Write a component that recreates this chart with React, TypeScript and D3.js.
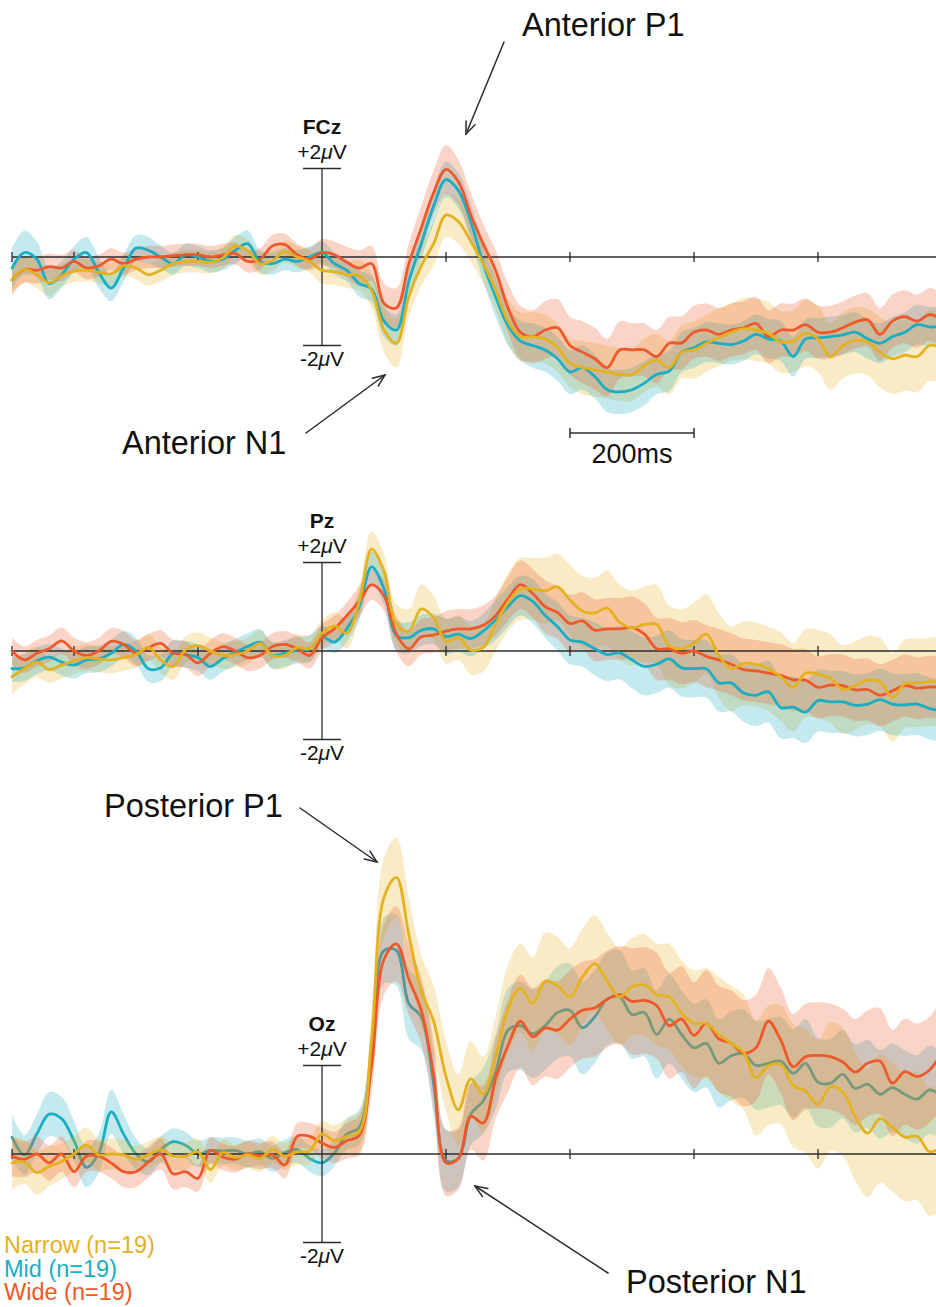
import React from 'react';
import * as d3 from 'd3';

const W = 936;
const H = 1307;

// Sample times (ms), 20 ms steps from -500 to 1000
const times = d3.range(-500, 1001, 20);

const groups = ['Narrow (n=19)', 'Mid (n=19)', 'Wide (n=19)'];
const colors = { narrow: '#E4B11F', mid: '#1AAEC2', wide: '#EF582A' };

// Grand-average ERPs (µV), one row = 100 ms
const fczNarrow = [
  -0.52, -0.28, -0.40, -0.58, -0.42,
  -0.32, -0.30, -0.35, -0.38, -0.20,
  -0.25, -0.40, -0.30, -0.15, -0.10,
  -0.10, -0.12, -0.02, 0.25, 0.15,
  -0.15, -0.08, 0.12, 0.00, -0.10,
  -0.30, -0.33, -0.40, -0.42, -0.75,
  -1.65, -1.95, -0.90, -0.20, 0.30,
  0.95, 0.80, 0.35, -0.15, -0.75,
  -1.45, -1.80, -1.80, -1.85, -2.05,
  -2.40, -2.50, -2.55, -2.60, -2.65,
  -2.66, -2.45, -2.33, -2.50, -2.15,
  -2.10, -1.95, -1.82, -1.70, -1.62,
  -1.65, -1.72, -1.92, -1.90, -1.72,
  -1.85, -2.25, -2.00, -1.88, -1.92,
  -2.15, -2.30, -2.22, -2.25, -2.00,
  -2.05,
];
const fczMid = [
  -0.25, 0.10, -0.05, -0.60, -0.40,
  -0.05, 0.10, -0.35, -0.70, -0.25,
  0.20, 0.15, 0.00, -0.15, 0.05,
  0.00, -0.10, -0.05, 0.15, 0.30,
  -0.10, -0.15, -0.05, -0.10, 0.00,
  0.10, -0.15, -0.30, -0.60, -0.72,
  -1.45, -1.65, -0.55, 0.30, 1.15,
  1.75, 1.50, 0.80, -0.15, -0.90,
  -1.55, -1.90, -2.00, -2.10, -2.30,
  -2.60, -2.50, -2.70, -3.00, -3.05,
  -3.00, -2.85, -2.65, -2.58, -2.15,
  -2.05, -1.92, -1.95, -1.98, -1.90,
  -1.75, -1.85, -1.90, -2.25, -1.85,
  -1.83, -1.80, -1.76, -1.70, -1.85,
  -1.95, -1.80, -1.70, -1.53, -1.58,
  -1.57,
];
const fczWide = [
  -0.52, -0.28, -0.30, -0.22, -0.25,
  -0.10, -0.25, -0.20, -0.05, -0.15,
  -0.05, 0.00, 0.00, 0.03, 0.05,
  0.05, 0.00, 0.05, 0.08, -0.10,
  -0.05, 0.25, 0.28, 0.05, -0.05,
  0.10, 0.05, -0.12, -0.25, -0.15,
  -1.05, -1.15, -0.15, 0.65, 1.45,
  1.98, 1.70, 0.95, 0.30, -0.30,
  -1.15, -1.70, -1.80, -1.65, -1.60,
  -2.00, -2.15, -2.30, -2.50, -2.10,
  -2.10, -2.10, -2.25, -1.95, -1.94,
  -1.70, -1.65, -1.75, -1.65, -1.60,
  -1.50, -1.80, -1.65, -1.65, -1.53,
  -1.70, -1.70, -1.60, -1.47, -1.42,
  -1.75, -1.45, -1.35, -1.45, -1.30,
  -1.42,
];

const pzNarrow = [
  -0.58, -0.40, -0.25, -0.42, -0.32,
  -0.22, -0.15, -0.18, -0.20, -0.15,
  -0.08, 0.08, -0.20, -0.35, 0.03,
  0.12, 0.00, -0.10, -0.08, 0.00,
  0.17, -0.10, -0.10, 0.08, 0.05,
  0.40, 0.57, 0.40, 1.10, 2.30,
  1.80, 0.60, 0.45, 0.95, 0.75,
  0.22, 0.30, 0.02, 0.08, 0.60,
  1.10, 1.40, 1.40, 1.36, 1.45,
  1.15, 0.90, 0.86, 0.97, 0.65,
  0.52, 0.60, 0.60, 0.12, 0.05,
  0.18, 0.38, -0.10, -0.40, -0.28,
  -0.30, -0.40, -0.58, -0.82, -0.50,
  -0.52, -0.62, -0.87, -0.78, -0.66,
  -0.70, -1.05, -0.74, -0.72, -0.70,
  -0.66,
];
const pzMid = [
  -0.40, -0.38, -0.22, -0.14, -0.25,
  -0.32, -0.20, -0.18, -0.05, 0.15,
  0.00, -0.40, -0.38, -0.05, -0.08,
  -0.15, -0.35, -0.17, -0.03, 0.10,
  0.20, -0.10, -0.05, 0.02, 0.05,
  0.32, 0.20, 0.50, 1.00, 1.90,
  1.40, 0.35, 0.30, 0.47, 0.50,
  0.33, 0.38, 0.28, 0.45, 0.70,
  1.00, 1.25, 1.12, 0.80, 0.55,
  0.25, 0.20, 0.05, -0.08, -0.04,
  -0.20, -0.35, -0.30, -0.18, -0.38,
  -0.40, -0.40, -0.72, -0.72, -0.95,
  -1.00, -0.92, -1.28, -1.27, -1.38,
  -1.12, -1.15, -1.15, -1.23, -1.20,
  -1.10, -1.20, -1.22, -1.20, -1.30,
  -1.35,
];
const pzWide = [
  0.00, -0.20, -0.05, 0.05, 0.23,
  0.00, -0.10, 0.00, 0.22, 0.15,
  -0.05, 0.08, 0.17, -0.05, -0.08,
  -0.27, -0.05, 0.10, 0.00, -0.15,
  -0.10, 0.10, 0.15, 0.05, -0.10,
  0.30, 0.50, 0.80, 1.12, 1.50,
  1.25, 0.38, 0.05, 0.32, 0.36,
  0.45, 0.50, 0.50, 0.58, 0.80,
  1.18, 1.50, 1.30, 1.00, 0.87,
  0.62, 0.68, 0.47, 0.50, 0.50,
  0.53, 0.38, 0.05, 0.05, -0.05,
  0.00, -0.12, -0.20, -0.30, -0.42,
  -0.45, -0.50, -0.55, -0.65, -0.66,
  -0.82, -0.77, -0.78, -0.88, -0.87,
  -1.00, -0.90, -0.78, -0.84, -0.81,
  -0.83,
];

const ozNarrow = [
  -0.20, -0.18, -0.42, -0.28, -0.17,
  0.00, 0.20, -0.02, 0.00, -0.02,
  -0.12, -0.02, 0.10, -0.05, -0.05,
  0.05, -0.35, 0.03, -0.08, -0.02,
  -0.10, 0.10, -0.05, 0.05, 0.07,
  0.45, 0.30, 0.40, 0.50, 2.60,
  5.80, 6.25, 4.95, 3.70, 3.00,
  1.75, 1.00, 1.70, 1.35, 2.20,
  3.28, 3.75, 3.40, 3.90, 3.80,
  3.55, 4.00, 4.30, 3.90, 3.55,
  3.78, 3.82, 3.60, 3.55, 3.18,
  2.95, 2.95, 2.70, 2.50, 2.30,
  1.72, 2.00, 2.02, 1.55, 1.42,
  1.12, 1.52, 1.40, 0.85, 0.47,
  0.80, 0.60, 0.38, 0.40, 0.05,
  0.17,
];
const ozMid = [
  0.38, -0.02, 0.45, 0.90, 0.80,
  0.30, -0.30, 0.02, 0.95, 0.45,
  0.00, -0.18, 0.10, 0.28, 0.20,
  0.00, 0.08, 0.07, 0.08, 0.00,
  0.05, -0.10, 0.03, 0.10, -0.10,
  -0.20, 0.02, 0.45, 0.60, 2.30,
  4.60, 4.60, 3.40, 3.10, 1.60,
  -0.15, -0.10, 0.90, 1.20, 1.85,
  2.80, 2.90, 2.72, 2.90, 3.20,
  3.25, 2.85, 3.10, 3.50, 3.55,
  3.15, 3.20, 2.70, 3.05, 2.70,
  2.40, 2.50, 2.05, 2.22, 2.27,
  2.00, 2.05, 2.10, 1.82, 2.05,
  1.62, 1.60, 1.80, 1.48, 1.58,
  1.35, 1.50, 1.35, 1.24, 1.45,
  1.30,
];
const ozWide = [
  -0.05, -0.12, 0.00, -0.20, 0.00,
  -0.40, -0.05, -0.05, -0.20, -0.40,
  -0.40, -0.18, 0.00, -0.45, -0.40,
  -0.55, 0.08, -0.07, -0.12, 0.00,
  -0.04, -0.02, -0.25, 0.40, 0.40,
  0.25, 0.15, 0.30, 0.42, 2.00,
  4.40, 4.75, 3.95, 3.25, 1.80,
  -0.20, -0.10, 0.85, 0.70, 1.70,
  2.45, 3.00, 2.65, 2.85, 2.80,
  3.05, 3.25, 3.30, 3.50, 3.60,
  3.45, 3.47, 3.35, 2.90, 3.05,
  2.68, 2.95, 2.60, 2.50, 2.28,
  2.40, 3.00, 2.57, 1.97, 2.20,
  2.23, 2.20, 2.08, 1.85, 2.05,
  2.10, 1.60, 1.86, 1.75, 1.90,
  2.30,
];

// Standard error half-widths (µV), same sampling
const errFczNarrow = [
  0.35, 0.30, 0.30, 0.30, 0.25,
  0.25, 0.25, 0.25, 0.25, 0.25,
  0.25, 0.25, 0.25, 0.25, 0.25,
  0.25, 0.25, 0.25, 0.25, 0.25,
  0.25, 0.25, 0.25, 0.25, 0.25,
  0.30, 0.30, 0.30, 0.35, 0.40,
  0.50, 0.55, 0.45, 0.45, 0.50,
  0.50, 0.50, 0.45, 0.45, 0.45,
  0.50, 0.55, 0.55, 0.55, 0.55,
  0.55, 0.60, 0.60, 0.60, 0.60,
  0.60, 0.60, 0.60, 0.60, 0.60,
  0.65, 0.65, 0.65, 0.65, 0.70,
  0.70, 0.70, 0.70, 0.70, 0.75,
  0.75, 0.75, 0.75, 0.75, 0.75,
  0.80, 0.80, 0.80, 0.80, 0.80,
  0.80,
];
const errFczMid = [
  0.45, 0.50, 0.40, 0.35, 0.30,
  0.30, 0.35, 0.35, 0.30, 0.30,
  0.30, 0.30, 0.25, 0.25, 0.25,
  0.25, 0.25, 0.25, 0.30, 0.30,
  0.25, 0.25, 0.25, 0.25, 0.25,
  0.25, 0.25, 0.25, 0.30, 0.30,
  0.35, 0.35, 0.35, 0.35, 0.40,
  0.40, 0.40, 0.40, 0.40, 0.45,
  0.45, 0.45, 0.50, 0.50, 0.50,
  0.50, 0.50, 0.50, 0.50, 0.50,
  0.50, 0.50, 0.45, 0.45, 0.45,
  0.45, 0.45, 0.45, 0.45, 0.45,
  0.45, 0.45, 0.45, 0.45, 0.45,
  0.45, 0.45, 0.45, 0.45, 0.45,
  0.45, 0.45, 0.45, 0.45, 0.45,
  0.45,
];
const errFczWide = [
  0.30, 0.30, 0.30, 0.30, 0.30,
  0.25, 0.25, 0.25, 0.25, 0.25,
  0.25, 0.25, 0.25, 0.25, 0.25,
  0.25, 0.25, 0.25, 0.25, 0.25,
  0.25, 0.25, 0.25, 0.25, 0.25,
  0.30, 0.30, 0.35, 0.40, 0.40,
  0.45, 0.45, 0.45, 0.50, 0.50,
  0.55, 0.50, 0.50, 0.45, 0.45,
  0.55, 0.60, 0.60, 0.65, 0.65,
  0.65, 0.70, 0.70, 0.65, 0.65,
  0.60, 0.60, 0.60, 0.60, 0.60,
  0.60, 0.60, 0.60, 0.60, 0.60,
  0.60, 0.60, 0.60, 0.60, 0.60,
  0.60, 0.60, 0.60, 0.60, 0.60,
  0.60, 0.60, 0.60, 0.60, 0.60,
  0.60,
];

const errPzNarrow = [
  0.40, 0.35, 0.35, 0.30, 0.30,
  0.30, 0.30, 0.30, 0.30, 0.30,
  0.30, 0.30, 0.30, 0.30, 0.30,
  0.30, 0.30, 0.30, 0.30, 0.30,
  0.30, 0.30, 0.30, 0.30, 0.30,
  0.30, 0.30, 0.35, 0.35, 0.40,
  0.40, 0.45, 0.50, 0.55, 0.50,
  0.50, 0.50, 0.55, 0.55, 0.60,
  0.65, 0.70, 0.70, 0.75, 0.75,
  0.80, 0.80, 0.80, 0.85, 0.85,
  0.85, 0.85, 0.90, 0.90, 0.90,
  0.90, 0.90, 0.95, 0.95, 0.95,
  0.95, 0.95, 1.00, 1.00, 1.00,
  1.00, 1.00, 1.00, 1.00, 1.00,
  1.00, 1.00, 1.00, 1.00, 1.00,
  1.00,
];
const errPzMid = [
  0.30, 0.30, 0.30, 0.30, 0.30,
  0.30, 0.30, 0.30, 0.30, 0.30,
  0.30, 0.30, 0.30, 0.30, 0.30,
  0.30, 0.30, 0.30, 0.30, 0.30,
  0.30, 0.30, 0.30, 0.30, 0.30,
  0.25, 0.25, 0.30, 0.30, 0.35,
  0.35, 0.35, 0.35, 0.35, 0.35,
  0.40, 0.40, 0.40, 0.40, 0.45,
  0.45, 0.45, 0.50, 0.50, 0.55,
  0.55, 0.55, 0.60, 0.60, 0.60,
  0.65, 0.65, 0.65, 0.65, 0.65,
  0.65, 0.65, 0.65, 0.65, 0.65,
  0.70, 0.70, 0.70, 0.70, 0.70,
  0.70, 0.70, 0.70, 0.70, 0.70,
  0.70, 0.70, 0.70, 0.70, 0.70,
  0.70,
];
const errPzWide = [
  0.30, 0.30, 0.30, 0.30, 0.30,
  0.30, 0.30, 0.30, 0.30, 0.30,
  0.30, 0.30, 0.30, 0.30, 0.30,
  0.30, 0.30, 0.30, 0.30, 0.30,
  0.30, 0.30, 0.30, 0.30, 0.30,
  0.30, 0.30, 0.30, 0.35, 0.35,
  0.35, 0.40, 0.40, 0.40, 0.40,
  0.45, 0.45, 0.45, 0.45, 0.45,
  0.50, 0.55, 0.55, 0.60, 0.60,
  0.65, 0.65, 0.70, 0.70, 0.70,
  0.70, 0.70, 0.70, 0.70, 0.70,
  0.70, 0.70, 0.70, 0.70, 0.70,
  0.70, 0.70, 0.70, 0.70, 0.70,
  0.70, 0.70, 0.70, 0.70, 0.70,
  0.70, 0.70, 0.70, 0.70, 0.70,
  0.70,
];

const errOzNarrow = [
  0.60, 0.50, 0.50, 0.45, 0.40,
  0.40, 0.40, 0.35, 0.35, 0.35,
  0.30, 0.30, 0.30, 0.30, 0.30,
  0.30, 0.30, 0.30, 0.30, 0.30,
  0.30, 0.30, 0.30, 0.30, 0.30,
  0.30, 0.35, 0.40, 0.45, 0.60,
  0.90, 0.90, 0.85, 0.80, 0.80,
  0.80, 0.80, 0.85, 0.85, 0.90,
  1.00, 1.00, 1.05, 1.10, 1.10,
  1.10, 1.10, 1.10, 1.10, 1.10,
  1.10, 1.15, 1.15, 1.20, 1.20,
  1.20, 1.25, 1.30, 1.30, 1.30,
  1.30, 1.35, 1.35, 1.40, 1.40,
  1.45, 1.45, 1.45, 1.45, 1.45,
  1.45, 1.45, 1.45, 1.45, 1.45,
  1.45,
];
const errOzMid = [
  0.50, 0.45, 0.45, 0.50, 0.50,
  0.45, 0.45, 0.45, 0.50, 0.45,
  0.35, 0.30, 0.30, 0.30, 0.30,
  0.30, 0.30, 0.30, 0.30, 0.30,
  0.30, 0.30, 0.30, 0.30, 0.30,
  0.30, 0.30, 0.35, 0.40, 0.55,
  0.75, 0.80, 0.80, 0.75, 0.70,
  0.70, 0.65, 0.70, 0.75, 0.85,
  0.95, 1.00, 1.00, 1.00, 1.05,
  1.05, 1.05, 1.05, 1.05, 1.05,
  1.00, 1.00, 1.00, 1.00, 1.00,
  1.00, 1.00, 1.00, 1.00, 1.00,
  1.00, 1.00, 1.00, 1.00, 1.00,
  1.00, 1.00, 1.00, 1.00, 1.00,
  1.00, 1.00, 1.00, 1.00, 1.00,
  1.00,
];
const errOzWide = [
  0.45, 0.40, 0.40, 0.40, 0.40,
  0.35, 0.35, 0.35, 0.35, 0.35,
  0.35, 0.35, 0.35, 0.35, 0.35,
  0.30, 0.30, 0.30, 0.30, 0.30,
  0.30, 0.30, 0.30, 0.30, 0.30,
  0.35, 0.35, 0.40, 0.45, 0.60,
  0.80, 0.85, 0.80, 0.75, 0.75,
  0.75, 0.70, 0.75, 0.85, 0.90,
  1.05, 1.05, 1.10, 1.10, 1.10,
  1.10, 1.10, 1.10, 1.10, 1.10,
  1.20, 1.20, 1.20, 1.20, 1.20,
  1.20, 1.20, 1.20, 1.20, 1.20,
  1.20, 1.20, 1.20, 1.20, 1.20,
  1.20, 1.20, 1.20, 1.20, 1.20,
  1.20, 1.20, 1.20, 1.20, 1.20,
  1.25,
];

const xTicks = [-500, -400, -200, 200, 400, 600, 800, 1000];

type Series = { key: 'narrow' | 'mid' | 'wide'; mean: number[]; err: number[] };
type Panel = { name: string; zero: number; series: Series[]; midUnder?: boolean };

const panels: Panel[] = [
  {
    name: 'FCz', zero: 257,
    series: [
      { key: 'narrow', mean: fczNarrow, err: errFczNarrow },
      { key: 'mid', mean: fczMid, err: errFczMid },
      { key: 'wide', mean: fczWide, err: errFczWide },
    ],
  },
  {
    name: 'Pz', zero: 651,
    series: [
      { key: 'narrow', mean: pzNarrow, err: errPzNarrow },
      { key: 'mid', mean: pzMid, err: errPzMid },
      { key: 'wide', mean: pzWide, err: errPzWide },
    ],
  },
  {
    name: 'Oz', zero: 1154, midUnder: true,
    series: [
      { key: 'narrow', mean: ozNarrow, err: errOzNarrow },
      { key: 'mid', mean: ozMid, err: errOzMid },
      { key: 'wide', mean: ozWide, err: errOzWide },
    ],
  },
];

const x = d3.scaleLinear().domain([-500, 1000]).range([12, 942]);
const HALF = 88.5; // pixels for 2 µV
const FONT = '"Liberation Sans", Arial, Helvetica, sans-serif';
const INK = '#2b2b2b';
const curve = d3.curveCatmullRom.alpha(0.5);

function Arrow({ x1, y1, x2, y2 }: { x1: number; y1: number; x2: number; y2: number }) {
  const a = Math.atan2(y2 - y1, x2 - x1);
  const L = 13;
  const s = (22 * Math.PI) / 180;
  const h1 = [x2 - L * Math.cos(a - s), y2 - L * Math.sin(a - s)];
  const h2 = [x2 - L * Math.cos(a + s), y2 - L * Math.sin(a + s)];
  return (
    <g stroke={INK} strokeWidth={1.5} fill="none" strokeLinecap="round">
      <line x1={x1} y1={y1} x2={x2} y2={y2} />
      <polyline points={`${h1[0]},${h1[1]} ${x2},${y2} ${h2[0]},${h2[1]}`} />
    </g>
  );
}

function PanelView({ p }: { p: Panel }) {
  const y = d3.scaleLinear().domain([-2, 2]).range([p.zero + HALF, p.zero - HALF]);
  const area = (s: Series) =>
    d3.area<number>()
      .x((_, i) => x(times[i]))
      .y0((d, i) => y(d - s.err[i]))
      .y1((d, i) => y(d + s.err[i]))
      .curve(curve)(s.mean) || '';
  const line = (s: Series) =>
    d3.line<number>().x((_, i) => x(times[i])).y((d) => y(d)).curve(curve)(s.mean) || '';

  const byKey = (k: string) => p.series.find((s) => s.key === k)!;
  const band = (s: Series) => (
    <path key={'b' + s.key} d={area(s)} fill={colors[s.key]} fillOpacity={0.26} stroke="none" />
  );
  const trace = (s: Series) => (
    <path key={'l' + s.key} d={line(s)} fill="none" stroke={colors[s.key]} strokeWidth={2.8}
      strokeLinejoin="round" strokeLinecap="round" />
  );
  const mid = byKey('mid');
  const narrow = byKey('narrow');
  const wide = byKey('wide');
  const x0 = x(0);

  const axis = (
    <g stroke={INK} strokeWidth={1.3}>
      <line x1={x(-500)} x2={x(1000)} y1={p.zero} y2={p.zero} />
      {xTicks.map((t) => (
        <line key={t} x1={x(t)} x2={x(t)} y1={p.zero - 5} y2={p.zero + 5} />
      ))}
      <line x1={x0} x2={x0} y1={y(2)} y2={y(-2)} />
      <line x1={x0 - 19} x2={x0 + 19} y1={y(2)} y2={y(2)} />
      <line x1={x0 - 19} x2={x0 + 19} y1={y(-2)} y2={y(-2)} />
    </g>
  );

  return (
    <g>
      {p.midUnder ? (
        <>
          {band(mid)}
          {trace(mid)}
          {band(narrow)}
          {band(wide)}
          {axis}
          {trace(wide)}
          {trace(narrow)}
        </>
      ) : (
        <>
          {band(narrow)}
          {band(mid)}
          {band(wide)}
          {axis}
          {trace(mid)}
          {trace(wide)}
          {trace(narrow)}
        </>
      )}
      <g fontFamily={FONT} fill="#111" textAnchor="middle">
        <text x={x0} y={y(2) - 35} fontSize={21} fontWeight="bold">{p.name}</text>
        <text x={x0} y={y(2) - 10} fontSize={21}>+2<tspan fontStyle="italic">μ</tspan>V</text>
        <text x={x0} y={y(-2) + 20} fontSize={21}>-2<tspan fontStyle="italic">μ</tspan>V</text>
      </g>
    </g>
  );
}

export default function App() {
  const barY = 433;
  const legendColors = [colors.narrow, colors.mid, colors.wide];
  return (
    <svg width={W} height={H} viewBox={`0 0 ${W} ${H}`}
      style={{ position: 'absolute', left: 0, top: 0, background: '#fff' }}>
      <rect x={0} y={0} width={W} height={H} fill="#fff" />
      {panels.map((p) => <PanelView key={p.name} p={p} />)}

      {/* time scale bar */}
      <g stroke={INK} strokeWidth={1.5}>
        <line x1={x(400)} x2={x(600)} y1={barY} y2={barY} />
        <line x1={x(400)} x2={x(400)} y1={barY - 5} y2={barY + 5} />
        <line x1={x(600)} x2={x(600)} y1={barY - 5} y2={barY + 5} />
      </g>
      <text x={(x(400) + x(600)) / 2} y={463} fontFamily={FONT} fontSize={27} textAnchor="middle" fill="#111">200ms</text>

      {/* component annotations */}
      <g fontFamily={FONT} fontSize={32.5} fill="#111">
        <text x={522} y={36}>Anterior P1</text>
        <text x={122} y={454}>Anterior N1</text>
        <text x={104} y={817}>Posterior P1</text>
        <text x={626} y={1293}>Posterior N1</text>
      </g>
      <Arrow x1={504} y1={42} x2={466} y2={134} />
      <Arrow x1={306} y1={433} x2={385} y2={375} />
      <Arrow x1={300} y1={808} x2={377} y2={862} />
      <Arrow x1={608} y1={1273} x2={475} y2={1186} />

      {/* legend */}
      <g fontFamily={FONT} fontSize={23.5}>
        {groups.map((g, i) => (
          <text key={g} x={4} y={1253 + i * 23.5} fill={legendColors[i]}>{g}</text>
        ))}
      </g>
    </svg>
  );
}
